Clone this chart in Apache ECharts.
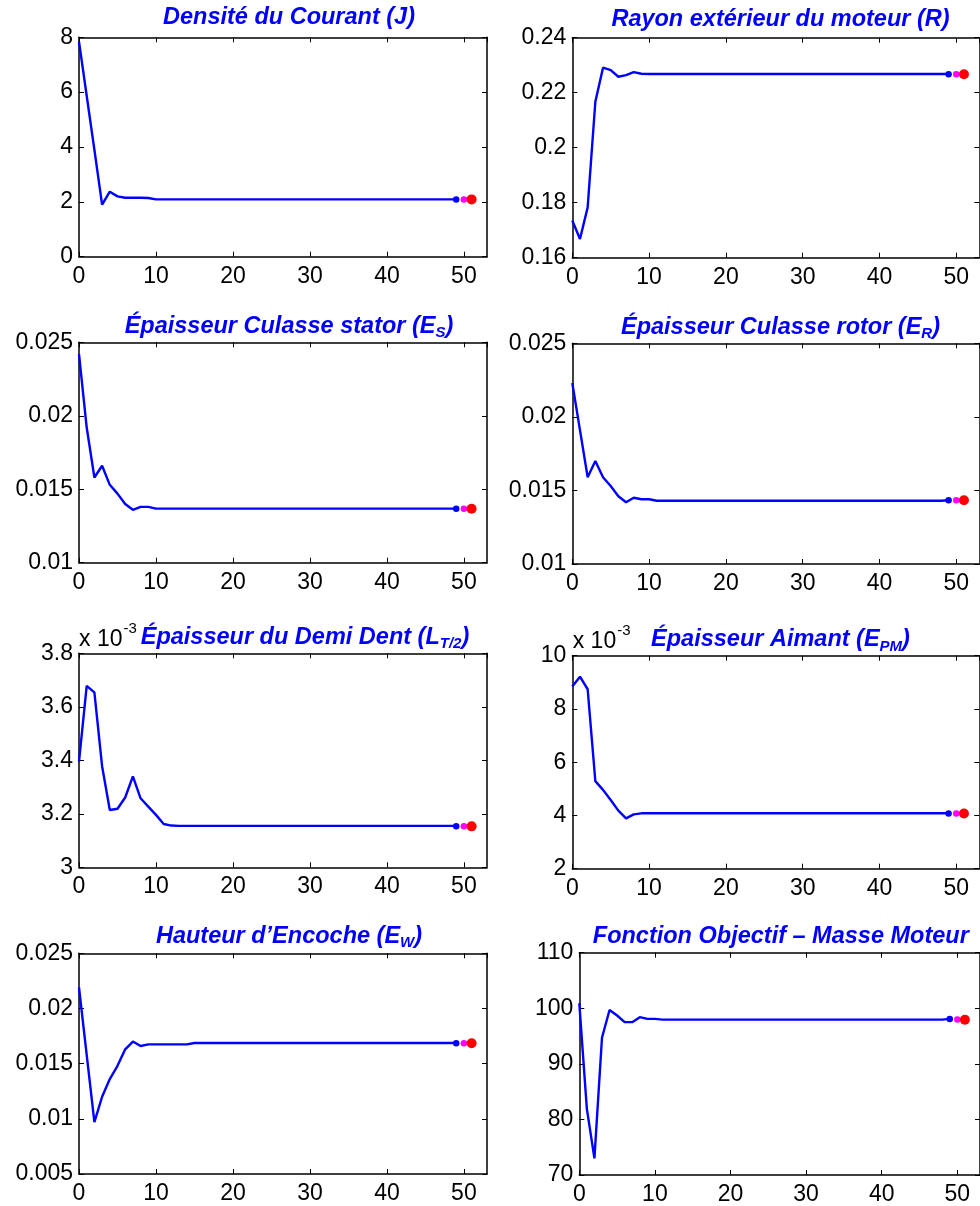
<!DOCTYPE html>
<html><head><meta charset="utf-8">
<script src="https://cdn.jsdelivr.net/npm/echarts@6/dist/echarts.min.js"></script>
<style>html,body{margin:0;padding:0;background:#fff}#c{width:980px;height:1206px}</style>
</head><body><div id="c"></div>
<script>
// ---------- data ----------
const iterations = [0,1,2,3,4,5,6,7,8,9,10,11,12,13,14,15,16,17,18,19,20,21,22,23,24,25,26,27,28,29,30,31,32,33,34,35,36,37,38,39,40,41,42,43,44,45,46,47,48,49];
const finalIterations = [49, 50, 51];

const densiteJ = [7.84,5.87,3.90,1.90,2.37,2.20,2.15,2.15,2.15,2.14,2.09,2.09,2.09,2.09,2.09,2.09,2.09,2.09,2.09,2.09,2.09,2.09,2.09,2.09,2.09,2.09,2.09,2.09,2.09,2.09,2.09,2.09,2.09,2.09,2.09,2.09,2.09,2.09,2.09,2.09,2.09,2.09,2.09,2.09,2.09,2.09,2.09,2.09,2.09,2.09];
const finalJ = [2.09, 2.09, 2.09];

const rayonR = [0.1735,0.1668,0.1783,0.2167,0.2291,0.2282,0.2258,0.2264,0.2275,0.2269,0.2268,0.2268,0.2268,0.2268,0.2268,0.2268,0.2268,0.2268,0.2268,0.2268,0.2268,0.2268,0.2268,0.2268,0.2268,0.2268,0.2268,0.2268,0.2268,0.2268,0.2268,0.2268,0.2268,0.2268,0.2268,0.2268,0.2268,0.2268,0.2268,0.2268,0.2268,0.2268,0.2268,0.2268,0.2268,0.2268,0.2268,0.2268,0.2268,0.2268];
const finalR = [0.2267, 0.2267, 0.2267];

const culasseStatorES = [0.0242,0.0192,0.0158,0.0166,0.0153,0.0147,0.0140,0.0136,0.0138,0.0138,0.01368,0.01368,0.01368,0.01368,0.01368,0.01368,0.01368,0.01368,0.01368,0.01368,0.01368,0.01368,0.01368,0.01368,0.01368,0.01368,0.01368,0.01368,0.01368,0.01368,0.01368,0.01368,0.01368,0.01368,0.01368,0.01368,0.01368,0.01368,0.01368,0.01368,0.01368,0.01368,0.01368,0.01368,0.01368,0.01368,0.01368,0.01368,0.01368,0.01368];
const finalES = [0.01367, 0.01367, 0.01367];

const culasseRotorER = [0.0223,0.0191,0.0159,0.0170,0.0159,0.0153,0.0146,0.0142,0.0145,0.0144,0.0144,0.0143,0.0143,0.0143,0.0143,0.0143,0.0143,0.0143,0.0143,0.0143,0.0143,0.0143,0.0143,0.0143,0.0143,0.0143,0.0143,0.0143,0.0143,0.0143,0.0143,0.0143,0.0143,0.0143,0.0143,0.0143,0.0143,0.0143,0.0143,0.0143,0.0143,0.0143,0.0143,0.0143,0.0143,0.0143,0.0143,0.0143,0.0143,0.01433];
const finalER = [0.01433, 0.01433, 0.01433];

// values in units of 1e-3 (as on the axis "x 10^-3")
const demiDentLT2_e3 = [3.395,3.678,3.654,3.378,3.214,3.219,3.261,3.340,3.258,3.227,3.196,3.162,3.156,3.155,3.155,3.155,3.155,3.155,3.155,3.155,3.155,3.155,3.155,3.155,3.155,3.155,3.155,3.155,3.155,3.155,3.155,3.155,3.155,3.155,3.155,3.155,3.155,3.155,3.155,3.155,3.155,3.155,3.155,3.155,3.155,3.155,3.155,3.155,3.155,3.155];
const finalLT2_e3 = [3.153, 3.153, 3.153];

const aimantEPM_e3 = [8.84,9.21,8.74,5.29,4.96,4.58,4.18,3.89,4.04,4.08,4.08,4.08,4.08,4.08,4.08,4.08,4.08,4.08,4.08,4.08,4.08,4.08,4.08,4.08,4.08,4.08,4.08,4.08,4.08,4.08,4.08,4.08,4.08,4.08,4.08,4.08,4.08,4.08,4.08,4.08,4.08,4.08,4.08,4.08,4.08,4.08,4.08,4.08,4.08,4.08];
const finalEPM_e3 = [4.07, 4.07, 4.07];

const encocheEW = [0.0219,0.0158,0.0097,0.0120,0.0136,0.0148,0.0163,0.0170,0.0166,0.01675,0.01675,0.01675,0.01675,0.01675,0.01675,0.01687,0.01687,0.01687,0.01687,0.01687,0.01687,0.01687,0.01687,0.01687,0.01687,0.01687,0.01687,0.01687,0.01687,0.01687,0.01687,0.01687,0.01687,0.01687,0.01687,0.01687,0.01687,0.01687,0.01687,0.01687,0.01687,0.01687,0.01687,0.01687,0.01687,0.01687,0.01687,0.01687,0.01687,0.01687];
const finalEW = [0.01685, 0.01685, 0.01685];

const masseMoteur = [100.9,81.9,73.0,94.7,99.7,98.7,97.5,97.5,98.4,98.1,98.1,97.95,97.95,97.95,97.95,97.95,97.95,97.95,97.95,97.95,97.95,97.95,97.95,97.95,97.95,97.95,97.95,97.95,97.95,97.95,97.95,97.95,97.95,97.95,97.95,97.95,97.95,97.95,97.95,97.95,97.95,97.95,97.95,97.95,97.95,97.95,97.95,97.95,97.95,98.1];
const finalMasse = [98.05, 98.0, 97.95];

const xTicks = [0, 10, 20, 30, 40, 50];

// ---------- layout / style ----------
const FONT = '"Liberation Sans", Arial, Helvetica, sans-serif';
const BLUE = '#0000ff';
const markerColors = ['#0000ff', '#ff00ff', '#ff0000'];
const markerSizes = [6.5, 6.5, 10];

const panels = [
  { values: densiteJ, fin: finalJ, ymin: 0, ymax: 8, step: 2, grid: [79, 37.3, 408, 219.4],
    title: { x: 289, y: 18, text: 'Densité du Courant (J)' } },
  { values: rayonR, fin: finalR, ymin: 0.16, ymax: 0.24, step: 0.02, grid: [572.3, 37.7, 407, 220],
    title: { x: 780.5, y: 20, text: 'Rayon extérieur du moteur (R)' } },
  { values: culasseStatorES, fin: finalES, ymin: 0.01, ymax: 0.025, step: 0.005, grid: [79, 342.3, 408, 220.4],
    title: { x: 289, y: 326.5, text: 'Épaisseur Culasse stator (E{s|S})' } },
  { values: culasseRotorER, fin: finalER, ymin: 0.01, ymax: 0.025, step: 0.005, grid: [572.3, 343.3, 407, 220.7],
    title: { x: 780.5, y: 327.5, text: 'Épaisseur Culasse rotor (E{s|R})' } },
  { values: demiDentLT2_e3, fin: finalLT2_e3, ymin: 3, ymax: 3.8, step: 0.2, grid: [79, 653.3, 408, 214],
    title: { x: 305, y: 637.5, text: 'Épaisseur du Demi Dent (L{s|T/2})' }, exp: { x: 79, y: 636 } },
  { values: aimantEPM_e3, fin: finalEPM_e3, ymin: 2, ymax: 10, step: 2, grid: [572.3, 655.7, 407, 213],
    title: { x: 780.5, y: 640, text: 'Épaisseur Aimant (E{s|PM})' }, exp: { x: 572.7, y: 638 } },
  { values: encocheEW, fin: finalEW, ymin: 0.005, ymax: 0.025, step: 0.005, grid: [79, 953.3, 408, 220.7],
    title: { x: 289, y: 936.7, text: 'Hauteur d\u2019Encoche (E{s|W})' } },
  { values: masseMoteur, fin: finalMasse, ymin: 70, ymax: 110, step: 10, grid: [579.3, 952.7, 407.6, 229],
    title: { x: 780.8, y: 936.7, text: 'Fonction Objectif \u2013 Masse Moteur' } }
];

const grids = [], xAxes = [], yAxes = [], series = [], graphics = [];
const axisLineStyle = { color: '#000', width: 1.5 };
const labelStyle = { color: '#000', fontSize: 23, fontFamily: FONT };

panels.forEach(function (p, i) {
  grids.push({ left: p.grid[0], top: p.grid[1], width: p.grid[2], height: p.grid[3], containLabel: false });
  const xBase = { type: 'value', gridIndex: i, min: 0, max: 53, interval: 10,
    splitLine: { show: false }, axisLine: { show: true, onZero: false, lineStyle: axisLineStyle },
    axisTick: { show: true, inside: true, length: 5, lineStyle: { color: '#000', width: 1 } } };
  xAxes.push(Object.assign({}, xBase, { position: 'bottom',
    axisLabel: { show: true, margin: 8, showMaxLabel: false, ...labelStyle,
      formatter: function (v) { return xTicks.indexOf(v) >= 0 ? String(v) : ''; } } }));
  xAxes.push(Object.assign({}, xBase, { position: 'top', axisLabel: { show: false } }));
  const yBase = { type: 'value', gridIndex: i, min: p.ymin, max: p.ymax, interval: p.step,
    splitLine: { show: false }, axisLine: { show: true, onZero: false, lineStyle: axisLineStyle },
    axisTick: { show: true, inside: true, length: 5, lineStyle: { color: '#000', width: 1 } } };
  yAxes.push(Object.assign({}, yBase, { position: 'left',
    axisLabel: { show: true, margin: 6, ...labelStyle } }));
  yAxes.push(Object.assign({}, yBase, { position: 'right', axisLabel: { show: false } }));

  series.push({ type: 'line', xAxisIndex: 2 * i, yAxisIndex: 2 * i,
    data: iterations.map(function (x, k) { return [x, p.values[k]]; }),
    showSymbol: false, symbol: 'none', lineStyle: { color: BLUE, width: 2.4 }, silent: true, z: 2, animation: false });
  series.push({ type: 'scatter', xAxisIndex: 2 * i, yAxisIndex: 2 * i,
    data: finalIterations.map(function (x, k) {
      return { value: [x, p.fin[k]], symbolSize: markerSizes[k], itemStyle: { color: markerColors[k], opacity: 1 } };
    }), itemStyle: { opacity: 1 }, z: 3, silent: true, animation: false });

  // title with rich subscripts
  const parts = [];
  p.title.text.split(/(\{s\|[^}]*\})/).forEach(function (seg) {
    if (!seg) return;
    if (seg.indexOf('{s|') === 0) parts.push(seg);
    else parts.push('{t|' + seg + '}');
  });
  graphics.push({ type: 'text', x: p.title.x, y: p.title.y, silent: true,
    style: { text: parts.join(''), align: 'center', verticalAlign: 'middle',
      fill: BLUE, font: 'italic bold 23.5px ' + FONT,
      rich: {
        t: { fontSize: 23.5, fontWeight: 'bold', fontStyle: 'italic', fontFamily: FONT, color: BLUE, lineHeight: 28, verticalAlign: 'middle' },
        s: { fontSize: 15, fontWeight: 'bold', fontStyle: 'italic', fontFamily: FONT, color: BLUE, lineHeight: 15, verticalAlign: 'bottom' }
      } } });
  if (p.exp) {
    graphics.push({ type: 'text', x: p.exp.x, y: p.exp.y, silent: true,
      style: { text: '{n|x 10}{p|-3}', align: 'left', verticalAlign: 'middle', fill: '#000',
        rich: {
          n: { fontSize: 23, fontFamily: FONT, color: '#000', lineHeight: 30, verticalAlign: 'bottom' },
          p: { fontSize: 15, fontFamily: FONT, color: '#000', lineHeight: 30, verticalAlign: 'top', padding: [0, 0, 0, 1] }
        } } });
  }
});

const chart = echarts.init(document.getElementById('c'), null, { renderer: 'canvas' });
chart.setOption({
  backgroundColor: '#fff',
  animation: false,
  grid: grids, xAxis: xAxes, yAxis: yAxes, series: series, graphic: graphics
});
</script>
</body></html>
